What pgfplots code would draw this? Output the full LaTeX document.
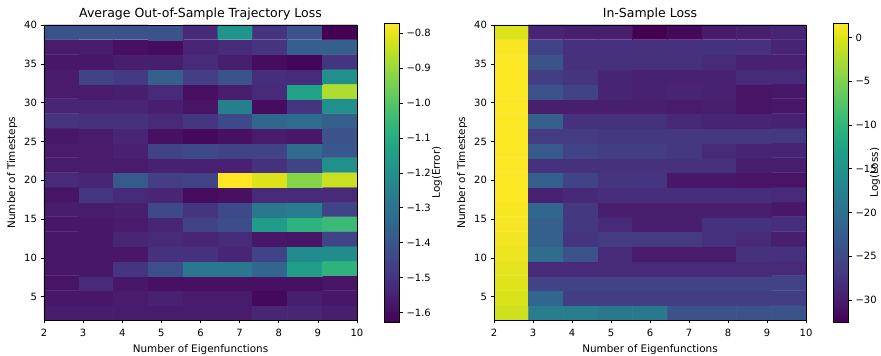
\documentclass[border=0pt]{standalone}
\usepackage{pgfplots}
\usepackage{pgfplotstable}
\pgfplotsset{compat=1.18}
\usepackage{fontspec}
\setmainfont{DejaVu Sans}
\pgfplotstableread[row sep=\\]{
e t v\\
2 2 -1.567\\ 3 2 -1.567\\ 4 2 -1.567\\ 5 2 -1.567\\ 6 2 -1.567\\ 7 2 -1.567\\ 8 2 -1.541\\ 9 2 -1.541\\ 10 2 -1.559\\
2 4 -1.576\\ 3 4 -1.576\\ 4 4 -1.567\\ 5 4 -1.550\\ 6 4 -1.567\\ 7 4 -1.567\\ 8 4 -1.610\\ 9 4 -1.559\\ 10 4 -1.576\\
2 6 -1.584\\ 3 6 -1.524\\ 4 6 -1.576\\ 5 6 -1.593\\ 6 6 -1.593\\ 7 6 -1.593\\ 8 6 -1.593\\ 9 6 -1.593\\ 10 6 -1.584\\
2 8 -1.576\\ 3 8 -1.576\\ 4 8 -1.499\\ 5 8 -1.422\\ 6 8 -1.285\\ 7 8 -1.285\\ 8 8 -1.345\\ 9 8 -1.148\\ 10 8 -1.071\\
2 10 -1.576\\ 3 10 -1.576\\ 4 10 -1.576\\ 5 10 -1.507\\ 6 10 -1.507\\ 7 10 -1.541\\ 8 10 -1.456\\ 9 10 -1.216\\ 10 10 -1.216\\
2 12 -1.576\\ 3 12 -1.576\\ 4 12 -1.541\\ 5 12 -1.524\\ 6 12 -1.541\\ 7 12 -1.524\\ 8 12 -1.576\\ 9 12 -1.584\\ 10 12 -1.456\\
2 14 -1.576\\ 3 14 -1.576\\ 4 14 -1.567\\ 5 14 -1.541\\ 6 14 -1.456\\ 7 14 -1.430\\ 8 14 -1.156\\ 9 14 -1.071\\ 10 14 -1.045\\
2 16 -1.567\\ 3 16 -1.567\\ 4 16 -1.559\\ 5 16 -1.439\\ 6 16 -1.499\\ 7 16 -1.439\\ 8 16 -1.285\\ 9 16 -1.268\\ 10 16 -1.456\\
2 18 -1.584\\ 3 18 -1.490\\ 4 18 -1.524\\ 5 18 -1.541\\ 6 18 -1.601\\ 7 18 -1.593\\ 8 18 -1.524\\ 9 18 -1.524\\ 10 18 -1.524\\
2 20 -1.524\\ 3 20 -1.541\\ 4 20 -1.387\\ 5 20 -1.473\\ 6 20 -1.456\\ 7 20 -0.771\\ 8 20 -0.814\\ 9 20 -0.925\\ 10 20 -0.840\\
2 22 -1.567\\ 3 22 -1.567\\ 4 22 -1.567\\ 5 22 -1.550\\ 6 22 -1.550\\ 7 22 -1.550\\ 8 22 -1.507\\ 9 22 -1.456\\ 10 22 -1.199\\
2 24 -1.567\\ 3 24 -1.567\\ 4 24 -1.550\\ 5 24 -1.456\\ 6 24 -1.439\\ 7 24 -1.456\\ 8 24 -1.456\\ 9 24 -1.327\\ 10 24 -1.396\\
2 26 -1.576\\ 3 26 -1.567\\ 4 26 -1.541\\ 5 26 -1.593\\ 6 26 -1.610\\ 7 26 -1.593\\ 8 26 -1.567\\ 9 26 -1.576\\ 10 26 -1.413\\
2 28 -1.499\\ 3 28 -1.507\\ 4 28 -1.507\\ 5 28 -1.524\\ 6 28 -1.490\\ 7 28 -1.439\\ 8 28 -1.345\\ 9 28 -1.327\\ 10 28 -1.370\\
2 30 -1.541\\ 3 30 -1.541\\ 4 30 -1.541\\ 5 30 -1.559\\ 6 30 -1.584\\ 7 30 -1.259\\ 8 30 -1.601\\ 9 30 -1.499\\ 10 30 -1.199\\
2 32 -1.567\\ 3 32 -1.567\\ 4 32 -1.559\\ 5 32 -1.524\\ 6 32 -1.593\\ 7 32 -1.559\\ 8 32 -1.524\\ 9 32 -1.131\\ 10 32 -0.874\\
2 34 -1.567\\ 3 34 -1.456\\ 4 34 -1.482\\ 5 34 -1.370\\ 6 34 -1.473\\ 7 34 -1.413\\ 8 34 -1.516\\ 9 34 -1.524\\ 10 34 -1.199\\
2 36 -1.576\\ 3 36 -1.576\\ 4 36 -1.559\\ 5 36 -1.559\\ 6 36 -1.524\\ 7 36 -1.559\\ 8 36 -1.601\\ 9 36 -1.618\\ 10 36 -1.499\\
2 38 -1.567\\ 3 38 -1.567\\ 4 38 -1.593\\ 5 38 -1.601\\ 6 38 -1.541\\ 7 38 -1.524\\ 8 38 -1.499\\ 9 38 -1.370\\ 10 38 -1.370\\
2 40 -1.413\\ 3 40 -1.413\\ 4 40 -1.413\\ 5 40 -1.413\\ 6 40 -1.524\\ 7 40 -1.182\\ 8 40 -1.499\\ 9 40 -1.413\\ 10 40 -1.627\\
}\errtable
\pgfplotstableread[row sep=\\]{
e t v\\
2 2 -0.8\\ 3 2 -18.2\\ 4 2 -18.2\\ 5 2 -18.8\\ 6 2 -18.8\\ 7 2 -24.0\\ 8 2 -24.0\\ 9 2 -24.0\\ 10 2 -24.0\\
2 4 -0.3\\ 3 4 -21.2\\ 4 4 -26.4\\ 5 4 -26.4\\ 6 4 -26.4\\ 7 4 -26.4\\ 8 4 -26.4\\ 9 4 -26.4\\ 10 4 -26.4\\
2 6 0.1\\ 3 6 -25.7\\ 4 6 -25.7\\ 5 6 -25.7\\ 6 6 -25.7\\ 7 6 -25.7\\ 8 6 -25.7\\ 9 6 -25.7\\ 10 6 -25.7\\
2 8 0.4\\ 3 8 -28.4\\ 4 8 -28.4\\ 5 8 -28.4\\ 6 8 -28.4\\ 7 8 -28.4\\ 8 8 -28.4\\ 9 8 -28.4\\ 10 8 -28.4\\
2 10 0.7\\ 3 10 -20.6\\ 4 10 -24.0\\ 5 10 -28.4\\ 6 10 -30.1\\ 7 10 -30.1\\ 8 10 -30.1\\ 9 10 -27.7\\ 10 10 -27.7\\
2 12 1.0\\ 3 12 -22.3\\ 4 12 -27.4\\ 5 12 -26.7\\ 6 12 -26.7\\ 7 12 -26.7\\ 8 12 -27.7\\ 9 12 -28.4\\ 10 12 -29.8\\
2 14 1.3\\ 3 14 -22.3\\ 4 14 -27.0\\ 5 14 -28.4\\ 6 14 -29.8\\ 7 14 -29.8\\ 8 14 -27.7\\ 9 14 -27.7\\ 10 14 -28.1\\
2 16 1.4\\ 3 16 -21.2\\ 4 16 -27.0\\ 5 16 -29.8\\ 6 16 -29.8\\ 7 16 -29.8\\ 8 16 -29.8\\ 9 16 -29.8\\ 10 16 -30.45\\
2 18 1.5\\ 3 18 -29.4\\ 4 18 -28.7\\ 5 18 -28.1\\ 6 18 -28.1\\ 7 18 -28.1\\ 8 18 -28.1\\ 9 18 -28.1\\ 10 18 -28.4\\
2 20 1.6\\ 3 20 -22.3\\ 4 20 -25.7\\ 5 20 -27.4\\ 6 20 -27.4\\ 7 20 -30.45\\ 8 20 -30.45\\ 9 20 -30.8\\ 10 20 -30.8\\
2 22 1.6\\ 3 22 -27.7\\ 4 22 -27.7\\ 5 22 -27.7\\ 6 22 -27.7\\ 7 22 -27.7\\ 8 22 -27.7\\ 9 22 -29.8\\ 10 22 -29.8\\
2 24 1.6\\ 3 24 -22.9\\ 4 24 -25.7\\ 5 24 -26.4\\ 6 24 -26.4\\ 7 24 -27.0\\ 8 24 -28.4\\ 9 24 -29.1\\ 10 24 -29.1\\
2 26 1.6\\ 3 26 -26.7\\ 4 26 -26.7\\ 5 26 -27.0\\ 6 26 -27.0\\ 7 26 -27.0\\ 8 26 -27.0\\ 9 26 -27.0\\ 10 26 -27.0\\
2 28 1.6\\ 3 28 -22.3\\ 4 28 -27.7\\ 5 28 -27.7\\ 6 28 -27.7\\ 7 28 -28.7\\ 8 28 -29.1\\ 9 28 -29.1\\ 10 28 -29.4\\
2 30 1.5\\ 3 30 -29.8\\ 4 30 -29.8\\ 5 30 -29.8\\ 6 30 -29.8\\ 7 30 -30.1\\ 8 30 -29.8\\ 9 30 -30.8\\ 10 30 -30.45\\
2 32 1.5\\ 3 32 -24.0\\ 4 32 -25.7\\ 5 32 -29.1\\ 6 32 -29.4\\ 7 32 -29.1\\ 8 32 -29.4\\ 9 32 -30.8\\ 10 32 -30.45\\
2 34 1.5\\ 3 34 -26.4\\ 4 34 -27.4\\ 5 34 -29.1\\ 6 34 -29.4\\ 7 34 -29.4\\ 8 34 -29.4\\ 9 34 -28.4\\ 10 34 -28.4\\
2 36 1.5\\ 3 36 -24.0\\ 4 36 -27.7\\ 5 36 -27.7\\ 6 36 -27.7\\ 7 36 -27.7\\ 8 36 -28.4\\ 9 36 -29.4\\ 10 36 -29.4\\
2 38 1.4\\ 3 38 -25.7\\ 4 38 -27.7\\ 5 38 -27.7\\ 6 38 -27.7\\ 7 38 -27.7\\ 8 38 -27.7\\ 9 38 -27.7\\ 10 38 -29.1\\
2 40 -0.1\\ 3 40 -29.1\\ 4 40 -29.8\\ 5 40 -29.8\\ 6 40 -32.5\\ 7 40 -31.8\\ 8 40 -30.1\\ 9 40 -29.8\\ 10 40 -29.1\\
}\losstable
\begin{document}
\begin{tikzpicture}[font=\fontsize{10}{12}\selectfont]
\useasboundingbox (0,0) rectangle (881pt,356pt);
\pgfplotsset{
  hm/.style={
    scale only axis, width=313pt, height=295pt,
    xmin=2, xmax=10, ymin=2, ymax=40,
    xtick={2,...,10}, ytick={5,10,...,40},
    tick align=outside, xtick pos=left, ytick pos=left,
    major tick length=3.5pt,
    every tick/.style={black, line width=0.6pt},
    /pgf/number format/assume math mode=true,
    tick label style={font=\fontsize{10}{12}\selectfont},
    xticklabel style={yshift=-2pt},
    label style={font=\fontsize{10.4}{12}\selectfont},
    xlabel style={yshift=-1pt},
    title style={font=\fontsize{12.5}{14}\selectfont, yshift=-5pt},
    xlabel={Number of Eigenfunctions},
    ylabel={Number of Timesteps},
    axis line style={line width=0.6pt},
    colormap/viridis,
    colorbar,
    axis on top,
    clip=false,
  },
  cb/.style={
    at={(parent axis.north east)}, anchor=north west, xshift=19pt, yshift=2pt,
    scale only axis, width=15pt, height=299pt,
    tick align=outside, ytick pos=right, yticklabel pos=right,
    major tick length=3.5pt,
    every tick/.style={black, line width=0.6pt},
    tick label style={font=\fontsize{10}{12}\selectfont},
    axis line style={line width=0.6pt},
  },
}
\begin{axis}[hm, at={(44pt,36pt)}, anchor=south west,
  title={Average Out-of-Sample Trajectory Loss},
  point meta min=-1.627, point meta max=-0.771,
  colorbar style={cb,
    ytick={-1.6,-1.5,-1.4,-1.3,-1.2,-1.1,-1.0,-0.9,-0.8},
    yticklabels={−1.6,−1.5,−1.4,−1.3,−1.2,−1.1,−1.0,−0.9,−0.8}},
]
\addplot[matrix plot*, mesh/cols=9, point meta=explicit]
  table[x expr={2+(\thisrow{e}-1.5)*8/9}, y expr={1.05+0.95*\thisrow{t}}, meta=v] {\errtable};
\node[rotate=90, inner sep=0pt, font=\fontsize{10.4}{12}\selectfont] at (axis description cs:1.2555,0.5) {Log(Error)};
\end{axis}
\begin{axis}[hm, at={(494pt,36pt)}, anchor=south west, width=312pt,
  title={In-Sample Loss},
  point meta min=-32.5, point meta max=1.64,
  colorbar style={cb,
    ytick={-30,-25,-20,-15,-10,-5,0},
    yticklabels={−30,−25,−20,−15,−10,−5,0}},
]
\addplot[matrix plot*, mesh/cols=9, point meta=explicit]
  table[x expr={2+(\thisrow{e}-1.5)*8/9}, y expr={1.05+0.95*\thisrow{t}}, meta=v] {\losstable};
\node[rotate=90, inner sep=0pt, font=\fontsize{10.4}{12}\selectfont] at (axis description cs:1.2212,0.5) {Log(Loss)};
\end{axis}
\end{tikzpicture}
\end{document}
